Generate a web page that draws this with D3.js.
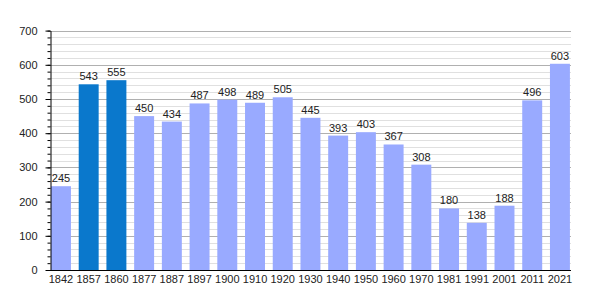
<!DOCTYPE html>
<html>
<head>
<meta charset="utf-8">
<script src="https://cdn.jsdelivr.net/npm/d3@7"></script>
<style>
	body { margin: 0; background: #fff; }
	text { font-family: "Liberation Sans", Arial, sans-serif; }
</style>
</head>
<body>
<script>
var years = ["1842", "1857", "1860", "1877", "1887", "1897", "1900", "1910", "1920", "1930",
	"1940", "1950", "1960", "1970", "1981", "1991", "2001", "2011", "2021"];
var population = [245, 543, 555, 450, 434, 487, 498, 489, 505, 445,
	393, 403, 367, 308, 180, 138, 188, 496, 603];
var highlighted = ["1857", "1860"];
var yTicks = [0, 100, 200, 300, 400, 500, 600, 700];

var width = 600, height = 300;

var x = d3.scaleBand()
	.domain(years)
	.range([49.6, 571.3])
	.paddingInner(0.28)
	.paddingOuter(0.05);

var y = d3.scaleLinear().domain([0, 700]).range([270, 30.6]);

var svg = d3.select("body").append("svg")
	.attr("width", width)
	.attr("height", height);

// minor grid every 20
svg.append("g")
	.selectAll("line")
	.data(d3.range(20, 701, 20).filter(function (d) { return d % 100 !== 0; }))
	.enter().append("line")
	.attr("x1", 50).attr("x2", 571)
	.attr("y1", function (d) { return Math.round(y(d)) + 0.5; })
	.attr("y2", function (d) { return Math.round(y(d)) + 0.5; })
	.attr("stroke", "#e0e0e0");

// major grid
svg.append("g")
	.selectAll("line")
	.data(yTicks.slice(1))
	.enter().append("line")
	.attr("x1", 50).attr("x2", 571)
	.attr("y1", function (d) { return Math.round(y(d)) + 0.5; })
	.attr("y2", function (d) { return Math.round(y(d)) + 0.5; })
	.attr("stroke", "#b0b0b0");

svg.append("g")
	.selectAll("rect")
	.data(years)
	.enter().append("rect")
	.attr("x", function (d) { return x(d); })
	.attr("width", x.bandwidth())
	.attr("y", function (d, i) { return y(population[i]); })
	.attr("height", function (d, i) { return y(0) - y(population[i]); })
	.attr("fill", function (d) { return highlighted.indexOf(d) >= 0 ? "#0a78cc" : "#99aaff"; });

svg.append("g")
	.selectAll("text")
	.data(years)
	.enter().append("text")
	.attr("x", function (d) { return x(d) + x.bandwidth() / 2; })
	.attr("y", function (d, i) { return y(population[i]) - 4; })
	.attr("text-anchor", "middle")
	.attr("font-size", "11px")
	.attr("fill", "#222")
	.text(function (d, i) { return population[i]; });

// minor ticks
svg.append("g")
	.attr("transform", "translate(50.5,0)")
	.call(d3.axisLeft(y).tickValues(d3.range(0, 701, 20)).tickSize(3).tickFormat(""))
	.call(function (g) { g.select(".domain").remove(); })
	.call(function (g) { g.selectAll("line").attr("stroke", "#000"); });

// y axis
svg.append("g")
	.attr("transform", "translate(50.5,0)")
	.call(d3.axisLeft(y).tickValues(yTicks).tickSize(5).tickSizeOuter(0).tickPadding(8))
	.call(function (g) {
		g.selectAll("text").attr("font-size", "11px").attr("fill", "#222")
			.style("font-family", "'Liberation Sans', Arial, sans-serif");
	});

// x axis
svg.append("g")
	.attr("transform", "translate(0,270.5)")
	.call(d3.axisBottom(x).tickSize(0).tickSizeOuter(0).tickPadding(5))
	.call(function (g) {
		g.select(".domain").attr("d", "M50,0H571");
		g.selectAll("text").attr("font-size", "11px").attr("fill", "#222")
			.style("font-family", "'Liberation Sans', Arial, sans-serif");
	});
</script>
</body>
</html>
